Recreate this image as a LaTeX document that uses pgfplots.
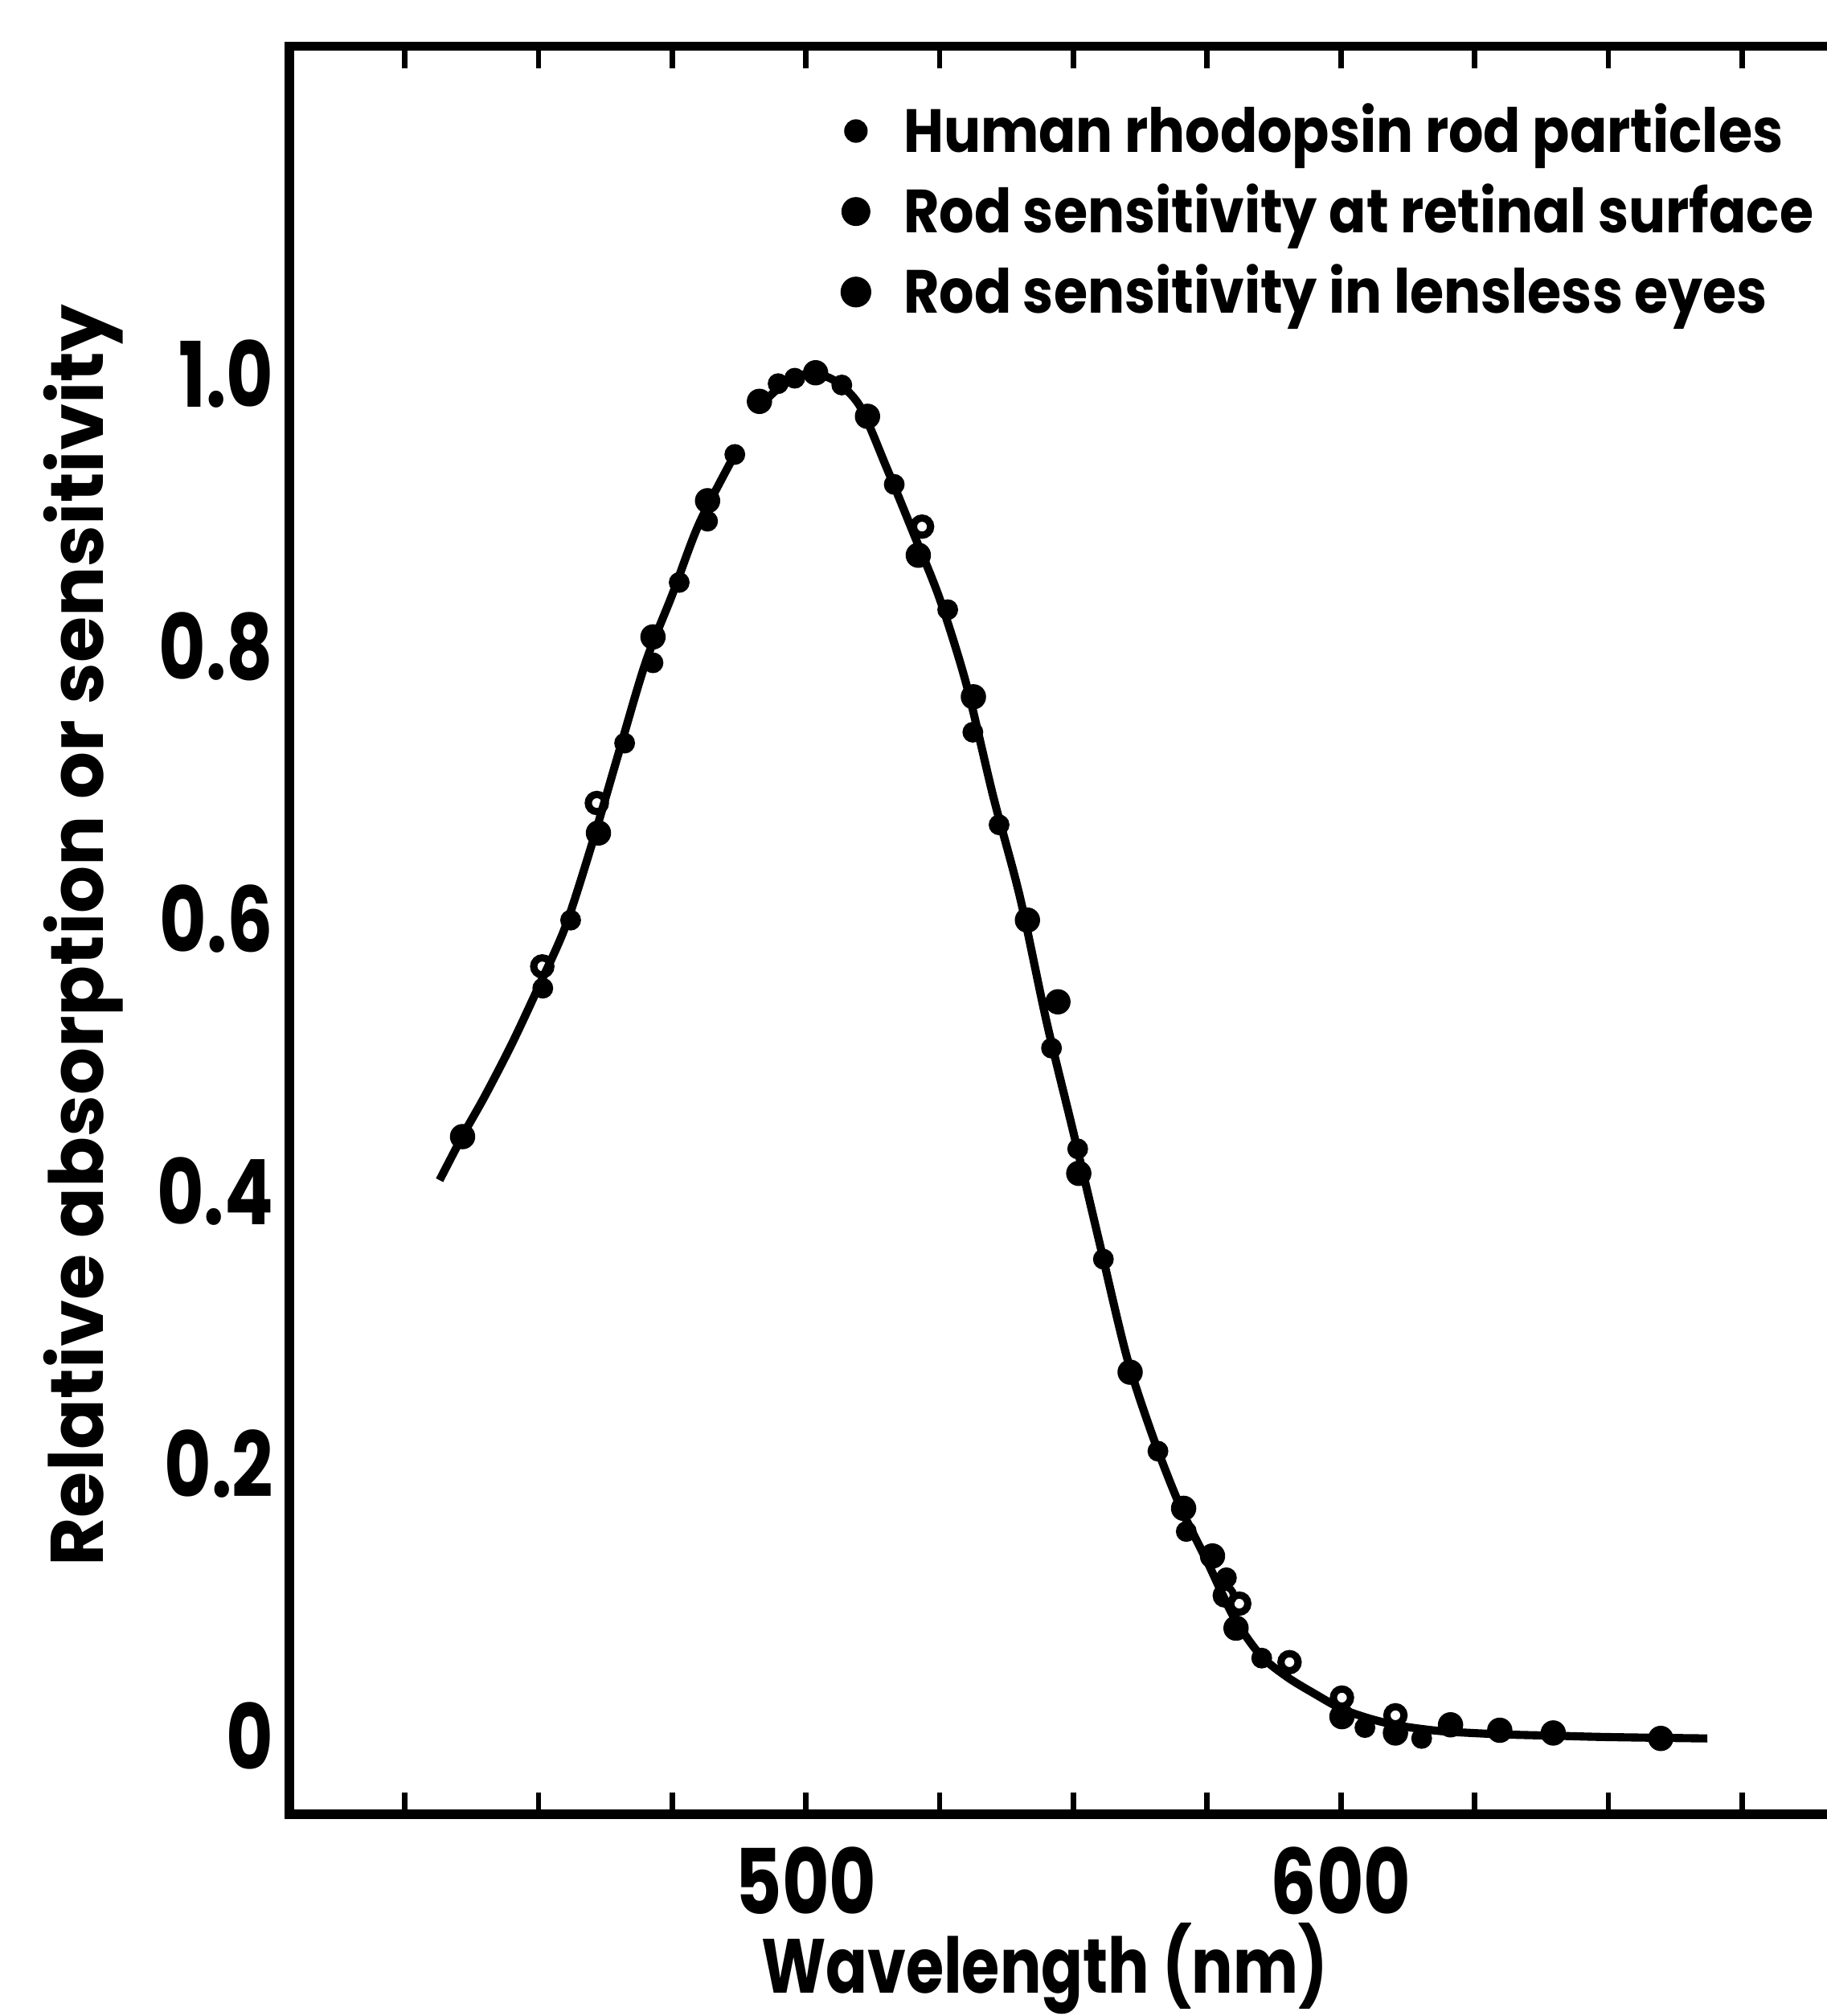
\documentclass[border=0pt]{standalone}
\usepackage{fontspec}
\setmainfont{Poppins}[FakeStretch=0.8]
\newfontfamily\legfont{Poppins}[FakeStretch=0.9]
\newfontfamily\ylabfont{Poppins}[FakeStretch=1.0]
\usepackage{pgfplots}
\pgfplotsset{compat=1.18}

\begin{document}
\begin{tikzpicture}
\begin{axis}[
    at={(0,0)}, anchor=south west,
    scale only axis,
    width=12.34cm, height=13.75cm,
    xmin=403.4, xmax=700,
    ymin=-0.0576, ymax=1.2408,
    axis line style={line width=2pt},
    xtick={425,450,...,675},
    xticklabels={,,,500,,,,600,,,},
    xtick align=inside,
    xtick style={line width=1.2pt, black},
    major tick length=0.17cm,
    ytick={0,0.2,0.4,0.6,0.8,1.0},
    yticklabels={0,0.2,0.4,0.6,0.8,1.0},
    ytick style={draw=none},
    tick label style={font=\fontsize{20}{24}\selectfont\bfseries},
    xticklabel style={anchor=base, yshift=-0.78cm},
    xlabel={Wavelength (nm)},
    xlabel style={at={(axis description cs:0.476,-0.101)}, anchor=base,
        font=\fontsize{17}{20}\selectfont\bfseries},
    ylabel={Relative absorption or sensitivity},
    ylabel style={at={(axis description cs:-0.1297,0.497)}, anchor=center,
        font=\ylabfont\fontsize{16.5}{20}\selectfont\bfseries},
    legend style={at={(rel axis cs:0.3404,0.9734)}, anchor=north west,
        draw=none, fill=none, inner sep=0pt,
        font=\legfont\fontsize{13.5}{16}\selectfont\bfseries,
        row sep=1.5pt, nodes={inner sep=2pt}},
    legend cell align=left,
]
% fitted curve (two pieces, the line breaks just left of the peak)
\addplot[black, line width=1.8pt, smooth, forget plot] coordinates {
(431.5,0.408) (436,0.442) (440,0.470) (445,0.508) (450,0.550) (455,0.594)
(460,0.655) (465,0.722) (470,0.788) (475,0.838) (480,0.890) (486.7,0.941)
};
\addplot[black, line width=1.8pt, smooth, forget plot] coordinates {
(491.3,0.976) (495,0.990) (500,1.000) (505,0.996) (510,0.977) (515,0.932)
(520,0.884) (525,0.835) (530,0.772) (535,0.690) (540,0.616) (545,0.524)
(550,0.443) (555,0.360) (560,0.278) (565,0.218) (570,0.168) (575,0.128)
(580,0.087) (585,0.059) (590,0.043) (595,0.031) (600,0.020) (605,0.013)
(610,0.008) (615,0.005) (620,0.003) (630,0.001) (640,0.000) (650,-0.001)
(668.5,-0.002)
};
% human rhodopsin rod particles
\addplot[only marks, mark=*, mark size=2.1pt, black,
    legend image code/.code={\path[draw=none] (0,0) -- (0.5cm,0);
        \fill (0.2cm,0cm) circle (2.4pt);}] coordinates {
(450.8,0.549) (456.0,0.599) (466.1,0.729) (471.4,0.788) (476.3,0.847)
(481.6,0.892) (486.7,0.941) (494.8,0.993) (497.9,0.997) (506.7,0.992)
(516.5,0.919) (526.5,0.827) (531.2,0.737) (536.1,0.669) (545.9,0.505)
(550.8,0.431) (555.6,0.350) (565.8,0.209) (571.1,0.150) (578.6,0.116)
(585.2,0.057) (604.5,0.006) (615.1,-0.002)
};
\addlegendentry{Human rhodopsin rod particles}
% rod sensitivity at retinal surface
\addplot[only marks, mark=o, mark size=1.9pt, black,
    mark options={line width=1.6pt, fill=white},
    legend image code/.code={\path[draw=none] (0,0) -- (0.5cm,0);
        \fill (0.2cm,0cm) circle (3.0pt);}] coordinates {
(450.7,0.565) (460.9,0.685) (521.7,0.888) (578.3,0.103) (581.0,0.097)
(590.4,0.054) (600.2,0.028) (610.2,0.015)
};
\addlegendentry{Rod sensitivity at retinal surface}
% rod sensitivity in lensless eyes
\addplot[only marks, mark=*, mark size=2.6pt, black,
    legend image code/.code={\path[draw=none] (0,0) -- (0.5cm,0);
        \fill (0.2cm,0cm) circle (3.2pt);}] coordinates {
(435.8,0.440) (461.2,0.663) (471.4,0.807) (481.6,0.907) (491.3,0.980)
(501.8,1.001) (511.5,0.969) (521.0,0.867) (531.3,0.763) (541.4,0.599)
(547.1,0.539) (551.0,0.413) (560.6,0.267) (570.6,0.167) (576.0,0.132)
(580.4,0.079) (600.2,0.014) (610.2,0.002) (620.5,0.008) (629.7,0.004)
(639.7,0.002) (659.8,-0.002)
};
\addlegendentry{Rod sensitivity in lensless eyes}
\end{axis}
% the reference is cut off just before the right frame line
\pgfresetboundingbox
\path[use as bounding box] (-2.25cm,-1.57cm) rectangle (11.96cm,14.11cm);
\end{tikzpicture}
\end{document}
